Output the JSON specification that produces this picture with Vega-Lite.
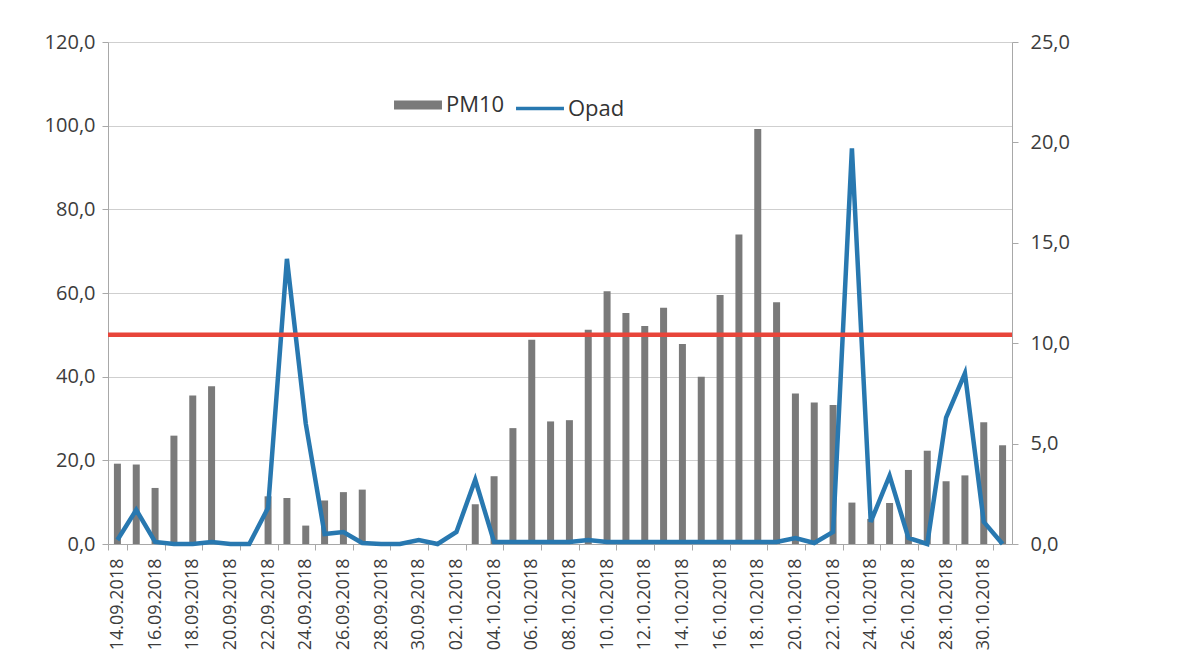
{
  "$schema": "https://vega.github.io/schema/vega-lite/v6.json",
  "width": 904,
  "height": 502,
  "autosize": {"type": "none"},
  "padding": {"left": 108, "top": 42, "right": 170, "bottom": 122},
  "background": "white",
  "config": {
    "font": "Open Sans",
    "view": {"stroke": null},
    "axis": {"labelColor": "#3c3c3c", "domainColor": "#a8a8a8", "tickColor": "#a8a8a8", "gridColor": "#cfcfcf"}
  },
  "datasets": {
    "days": [
      {"date": "14.09.2018", "PM10": 19.2, "Opad": 0.2},
      {"date": "15.09.2018", "PM10": 19.0, "Opad": 1.7},
      {"date": "16.09.2018", "PM10": 13.4, "Opad": 0.1},
      {"date": "17.09.2018", "PM10": 25.9, "Opad": 0.0},
      {"date": "18.09.2018", "PM10": 35.5, "Opad": 0.0},
      {"date": "19.09.2018", "PM10": 37.7, "Opad": 0.1},
      {"date": "20.09.2018", "PM10": null, "Opad": 0.0},
      {"date": "21.09.2018", "PM10": null, "Opad": 0.0},
      {"date": "22.09.2018", "PM10": 11.4, "Opad": 1.8},
      {"date": "23.09.2018", "PM10": 11.0, "Opad": 14.2},
      {"date": "24.09.2018", "PM10": 4.4, "Opad": 6.0},
      {"date": "25.09.2018", "PM10": 10.4, "Opad": 0.5},
      {"date": "26.09.2018", "PM10": 12.4, "Opad": 0.6},
      {"date": "27.09.2018", "PM10": 13.0, "Opad": 0.05},
      {"date": "28.09.2018", "PM10": null, "Opad": 0.0},
      {"date": "29.09.2018", "PM10": null, "Opad": 0.0},
      {"date": "30.09.2018", "PM10": null, "Opad": 0.2},
      {"date": "01.10.2018", "PM10": null, "Opad": 0.0},
      {"date": "02.10.2018", "PM10": null, "Opad": 0.6},
      {"date": "03.10.2018", "PM10": 9.5, "Opad": 3.2},
      {"date": "04.10.2018", "PM10": 16.2, "Opad": 0.1},
      {"date": "05.10.2018", "PM10": 27.7, "Opad": 0.1},
      {"date": "06.10.2018", "PM10": 48.8, "Opad": 0.1},
      {"date": "07.10.2018", "PM10": 29.3, "Opad": 0.1},
      {"date": "08.10.2018", "PM10": 29.6, "Opad": 0.1},
      {"date": "09.10.2018", "PM10": 51.2, "Opad": 0.2},
      {"date": "10.10.2018", "PM10": 60.4, "Opad": 0.1},
      {"date": "11.10.2018", "PM10": 55.2, "Opad": 0.1},
      {"date": "12.10.2018", "PM10": 52.1, "Opad": 0.1},
      {"date": "13.10.2018", "PM10": 56.5, "Opad": 0.1},
      {"date": "14.10.2018", "PM10": 47.8, "Opad": 0.1},
      {"date": "15.10.2018", "PM10": 40.0, "Opad": 0.1},
      {"date": "16.10.2018", "PM10": 59.5, "Opad": 0.1},
      {"date": "17.10.2018", "PM10": 74.0, "Opad": 0.1},
      {"date": "18.10.2018", "PM10": 99.2, "Opad": 0.1},
      {"date": "19.10.2018", "PM10": 57.8, "Opad": 0.1},
      {"date": "20.10.2018", "PM10": 36.0, "Opad": 0.3},
      {"date": "21.10.2018", "PM10": 33.8, "Opad": 0.05},
      {"date": "22.10.2018", "PM10": 33.2, "Opad": 0.6},
      {"date": "23.10.2018", "PM10": 9.9, "Opad": 19.7},
      {"date": "24.10.2018", "PM10": 6.0, "Opad": 1.1},
      {"date": "25.10.2018", "PM10": 9.8, "Opad": 3.4},
      {"date": "26.10.2018", "PM10": 17.7, "Opad": 0.3},
      {"date": "27.10.2018", "PM10": 22.3, "Opad": 0.0},
      {"date": "28.10.2018", "PM10": 15.0, "Opad": 6.3},
      {"date": "29.10.2018", "PM10": 16.4, "Opad": 8.5},
      {"date": "30.10.2018", "PM10": 29.1, "Opad": 1.1},
      {"date": "31.10.2018", "PM10": 23.6, "Opad": 0.0}
    ],
    "limit": [{"PM10limit": 50}]
  },
  "layer": [
    {
      "data": {"name": "days"},
      "mark": {"type": "bar", "width": 7, "color": "#7a7a7a"},
      "encoding": {
        "x": {
          "field": "date", "type": "nominal", "sort": null,
          "scale": {
            "paddingInner": 0, "paddingOuter": 0,
            "domain": ["14.09.2018","15.09.2018","16.09.2018","17.09.2018","18.09.2018","19.09.2018","20.09.2018","21.09.2018","22.09.2018","23.09.2018","24.09.2018","25.09.2018","26.09.2018","27.09.2018","28.09.2018","29.09.2018","30.09.2018","01.10.2018","02.10.2018","03.10.2018","04.10.2018","05.10.2018","06.10.2018","07.10.2018","08.10.2018","09.10.2018","10.10.2018","11.10.2018","12.10.2018","13.10.2018","14.10.2018","15.10.2018","16.10.2018","17.10.2018","18.10.2018","19.10.2018","20.10.2018","21.10.2018","22.10.2018","23.10.2018","24.10.2018","25.10.2018","26.10.2018","27.10.2018","28.10.2018","29.10.2018","30.10.2018","31.10.2018"]
          },
          "axis": {
            "title": null,
            "labelAngle": 270,
            "labelFontSize": 18,
            "labelPadding": 8,
            "tickSize": 6,
            "tickBand": "extent",
            "values": ["14.09.2018","16.09.2018","18.09.2018","20.09.2018","22.09.2018","24.09.2018","26.09.2018","28.09.2018","30.09.2018","02.10.2018","04.10.2018","06.10.2018","08.10.2018","10.10.2018","12.10.2018","14.10.2018","16.10.2018","18.10.2018","20.10.2018","22.10.2018","24.10.2018","26.10.2018","28.10.2018","30.10.2018"]
          }
        },
        "y": {
          "field": "PM10", "type": "quantitative",
          "scale": {"domain": [0, 120], "nice": false},
          "axis": {
            "title": null, "orient": "left", "values": [0, 20, 40, 60, 80, 100, 120],
            "labelExpr": "replace(format(datum.value, '.1f'), '.', ',')",
            "labelFontSize": 20, "labelPadding": 7, "tickSize": 6, "grid": true
          }
        },
        "color": {
          "datum": "PM10",
          "scale": {"domain": ["PM10", "Opad"], "range": ["#7a7a7a", "#2878b0"]},
          "legend": {
            "title": null,
            "orient": "none",
            "legendX": 299,
            "legendY": 52,
            "direction": "horizontal",
            "symbolType": "stroke",
            "symbolSize": 2300,
            "symbolStrokeWidth": 3,
            "labelFontSize": 22,
            "labelColor": "#333333",
            "labelOffset": 17,
            "columnPadding": 4,
            "encode": {
              "symbols": {"update": {"strokeWidth": {"signal": "datum.value === 'PM10' ? 9 : 3.5"}, "strokeCap": {"value": "butt"}}}
            }
          }
        }
      }
    },
    {
      "data": {"name": "days"},
      "mark": {"type": "line", "strokeWidth": 4.5, "strokeJoin": "miter"},
      "encoding": {
        "x": {"field": "date", "type": "nominal", "sort": null},
        "y": {
          "field": "Opad", "type": "quantitative",
          "scale": {"domain": [0, 25], "nice": false},
          "axis": {
            "title": null, "orient": "right", "values": [0, 5, 10, 15, 20, 25],
            "labelExpr": "replace(format(datum.value, '.1f'), '.', ',')",
            "labelFontSize": 20, "labelPadding": 12, "tickSize": 6, "grid": false
          }
        },
        "color": {"datum": "Opad"}
      }
    },
    {
      "data": {"name": "limit"},
      "mark": {"type": "rule", "color": "#e8453a", "strokeWidth": 4.5},
      "encoding": {
        "y": {"field": "PM10limit", "type": "quantitative", "scale": {"domain": [0, 120], "nice": false}, "axis": null}
      }
    }
  ],
  "resolve": {"scale": {"y": "independent"}}
}
